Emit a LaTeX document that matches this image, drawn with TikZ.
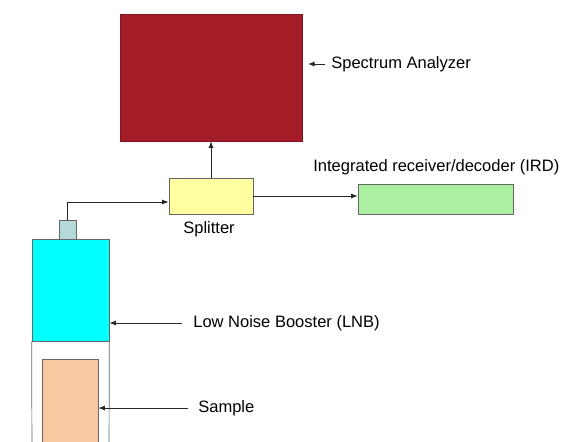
\documentclass[tikz,border=0pt]{standalone}
\usepackage{fontspec}
\setmainfont{Liberation Sans}
\usetikzlibrary{arrows.meta}

\definecolor{analyzerred}{RGB}{163,28,40}
\definecolor{splitteryellow}{RGB}{255,255,160}
\definecolor{irdgreen}{RGB}{170,240,160}
\definecolor{lnbcyan}{RGB}{0,255,255}
\definecolor{capgray}{RGB}{180,218,218}
\definecolor{samplepeach}{RGB}{248,200,160}

\begin{document}
\begin{tikzpicture}[x=0.02cm,y=-0.02cm,>={Latex[length=1.3mm,width=1mm]}]
    \tikzstyle{every node}=[font=\fontsize{9.4}{11}\selectfont];
    \tikzstyle{box}=[draw=gray!80!black,rectangle,inner sep=0pt];
    \tikzstyle{lbl}=[anchor=west,inner sep=0pt];
    \tikzstyle{pointer}=[->,draw=black!85,line width=0.5pt];
    \useasboundingbox (0,0) rectangle (561,441);
    \clip (0,0) rectangle (561,441);

    \node at (211, 77.5) (analyzer) [box,fill=analyzerred,draw=analyzerred!80!black,minimum width=3.64cm,minimum height=2.54cm] {};
    \node at (211, 196)  (splitter) [box,fill=splitteryellow,minimum width=1.68cm,minimum height=0.72cm] {};
    \node at (435.5, 199) (ird) [box,fill=irdgreen,minimum width=3.1cm,minimum height=0.6cm] {};
    \node at (67.5, 229.5) (lnbcap) [box,fill=capgray,minimum width=0.34cm,minimum height=0.38cm] {};
    \node at (70.5, 290) (lnb) [box,fill=lnbcyan,minimum width=1.54cm,minimum height=2.04cm] {};
    \draw[gray!80!black] (lnb.south west) -- (32,460);
    \draw[gray!80!black] (lnb.south east) -- (109,460);
    \node at (70, 409.5) (sample) [box,fill=samplepeach,minimum width=1.12cm,minimum height=2.02cm] {};

    % labels
    \node at (331, 64)  (analyzerlbl) [lbl] {Spectrum Analyzer};
    \node at (209, 229) (splitterlbl) {Splitter};
    \node at (313, 167) (irdlbl) [lbl] {Integrated receiver/decoder (IRD)};
    \node at (193, 323) (lnblbl) [lbl] {Low Noise Booster (LNB)};
    \node at (198, 408) (samplelbl) [lbl] {Sample};

    \coordinate (analyzerptr) at (325, 64);
    \coordinate (lnbptr) at (182, 323);
    \coordinate (sampleptr) at (188, 408);

    % connectors
    \draw[pointer] (splitter.north) -- (analyzer.south);
    \draw[pointer] (splitter.east) -- (splitter.east -| ird.west);
    \draw[pointer] (lnbcap.north) |- ([yshift=-1.2mm]splitter.west);
    \draw[pointer] (analyzerptr) -- (308, 64);
    \draw[pointer] (lnbptr) -- (lnbptr -| lnb.east);
    \draw[pointer] (sampleptr) -- (sampleptr -| sample.east);
\end{tikzpicture}
\end{document}
